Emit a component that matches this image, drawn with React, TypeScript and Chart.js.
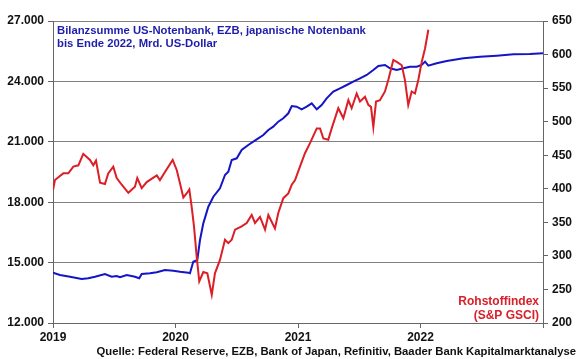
import React, { useEffect, useRef } from "react";
import { Chart, registerables } from "chart.js";

Chart.register(...registerables);

// Balance sheet total (left axis, Mrd. US-Dollar)
const blueDates = [
  2019.0, 2019.057, 2019.139, 2019.234, 2019.288, 2019.343, 2019.424, 2019.479, 2019.52, 2019.547,
  2019.602, 2019.669, 2019.704, 2019.724, 2019.792, 2019.847, 2019.914, 2019.982, 2020.037, 2020.104,
  2020.118, 2020.145, 2020.178, 2020.2, 2020.227, 2020.268, 2020.309, 2020.363, 2020.404, 2020.431,
  2020.459, 2020.5, 2020.54, 2020.594, 2020.663, 2020.717, 2020.758, 2020.798, 2020.839, 2020.88,
  2020.921, 2020.949, 2020.989, 2021.03, 2021.071, 2021.112, 2021.153, 2021.193, 2021.234, 2021.288,
  2021.343, 2021.398, 2021.451, 2021.506, 2021.561, 2021.615, 2021.656, 2021.71, 2021.751, 2021.806,
  2021.86, 2021.914, 2021.969, 2022.01, 2022.037, 2022.064, 2022.132, 2022.214, 2022.351, 2022.486,
  2022.622, 2022.759, 2022.894, 2023.0,
];
const blueValues = [
  14500, 14384, 14300, 14185, 14220, 14300, 14434, 14300, 14334, 14270,
  14384, 14300, 14220, 14434, 14470, 14520, 14632, 14600, 14550, 14500,
  14470, 15044, 15130, 16122, 16950, 17776, 18273, 18690, 19350, 19515,
  20096, 20180, 20593, 20841, 21124, 21338, 21586, 21750, 22000, 22167,
  22416, 22778, 22744, 22615, 22744, 22912, 22615, 22828, 23160, 23490,
  23657, 23820, 23985, 24154, 24318, 24566, 24765, 24815, 24650, 24566,
  24650, 24730, 24730, 24815, 24980, 24780, 24900, 25013, 25147, 25230,
  25280, 25346, 25360, 25396,
];

// Commodity index S&P GSCI (right axis)
const redDates = [
  2019.0, 2019.016, 2019.049, 2019.084, 2019.125, 2019.166, 2019.207, 2019.247, 2019.302, 2019.329,
  2019.351, 2019.384, 2019.424, 2019.451, 2019.492, 2019.52, 2019.561, 2019.615, 2019.669, 2019.688,
  2019.724, 2019.765, 2019.847, 2019.873, 2019.914, 2019.977, 2020.01, 2020.037, 2020.064, 2020.091,
  2020.113, 2020.132, 2020.151, 2020.173, 2020.194, 2020.227, 2020.26, 2020.296, 2020.322, 2020.363,
  2020.404, 2020.431, 2020.459, 2020.486, 2020.54, 2020.581, 2020.622, 2020.649, 2020.69, 2020.731,
  2020.758, 2020.812, 2020.839, 2020.88, 2020.921, 2020.949, 2020.976, 2021.016, 2021.057, 2021.098,
  2021.153, 2021.18, 2021.207, 2021.247, 2021.275, 2021.329, 2021.37, 2021.411, 2021.438, 2021.479,
  2021.506, 2021.547, 2021.574, 2021.596, 2021.615, 2021.637, 2021.669, 2021.71, 2021.737, 2021.778,
  2021.806, 2021.847, 2021.873, 2021.9, 2021.928, 2021.955, 2021.982, 2022.01, 2022.037, 2022.064,
];
const redValues = [
  398, 413, 418, 423, 423, 433, 435, 452, 443, 435,
  442, 409, 407, 423, 433, 416, 406, 394, 403, 416,
  401, 410, 420, 413, 425, 443, 428, 408, 387, 393,
  399, 373, 344, 299, 262, 276, 274, 242, 274, 294,
  324, 319, 324, 339, 344, 349, 361, 349, 358, 339,
  361, 341, 364, 386, 393, 406, 413, 433, 453, 468,
  490, 490, 475, 473, 490, 520, 505, 532, 520, 542,
  530, 537, 525, 522, 492, 530, 532, 545, 562, 592,
  589, 584, 562, 525, 545, 542, 562, 589, 609, 637,
];

const xTickLabels = ["2019", "2020", "2021", "2022"];
const titleLines = [
  "Bilanzsumme US-Notenbank, EZB, japanische Notenbank",
  "bis Ende 2022, Mrd. US-Dollar",
];
const redLabelLines = ["Rohstoffindex", "(S&P GSCI)"];
const sourceText =
  "Quelle: Federal Reserve, EZB, Bank of Japan, Refinitiv, Baader Bank Kapitalmarktanalyse";

const FONT = "'Liberation Sans', Arial, sans-serif";

const fmtThousands = (v: number) => {
  const s = Math.round(v).toString();
  return s.replace(/\B(?=(\d{3})+(?!\d))/g, ".");
};

const textPlugin = {
  id: "texts",
  afterDraw(chart: any) {
    const ctx = chart.ctx;
    const area = chart.chartArea;
    ctx.save();
    ctx.textBaseline = "middle";
    ctx.font = `bold 11.3px ${FONT}`;
    ctx.fillStyle = "#1e1eaa";
    ctx.textAlign = "left";
    ctx.fillText(titleLines[0], area.left + 4, 31);
    ctx.fillText(titleLines[1], area.left + 4, 44);
    ctx.font = `bold 12px ${FONT}`;
    ctx.fillStyle = "#d8202a";
    ctx.textAlign = "right";
    ctx.fillText(redLabelLines[0], area.right - 4, 302);
    ctx.fillText(redLabelLines[1], area.right - 4, 316);
    ctx.font = `bold 11.3px ${FONT}`;
    ctx.fillStyle = "#111";
    ctx.textAlign = "right";
    ctx.fillText(sourceText, 576, 352);
    ctx.restore();
  },
};

export default function App() {
  const ref = useRef<HTMLCanvasElement | null>(null);
  useEffect(() => {
    if (!ref.current) return;
    const chart = new Chart(ref.current, {
      type: "line",
      data: {
        datasets: [
          {
            label: "Rohstoffindex",
            data: redDates.map((d, i) => ({ x: d, y: redValues[i] })),
            borderColor: "#dc1e26",
            borderWidth: 2,
            pointRadius: 0,
            yAxisID: "y1",
            tension: 0,
          },
          {
            label: "Bilanzsumme",
            data: blueDates.map((d, i) => ({ x: d, y: blueValues[i] })),
            borderColor: "#1414c8",
            borderWidth: 2,
            pointRadius: 0,
            yAxisID: "y",
            tension: 0,
          },
        ],
      },
      plugins: [textPlugin],
      options: {
        animation: false,
        responsive: false,
        maintainAspectRatio: false,
        layout: { padding: { top: 21, left: 0, right: 0, bottom: 0 } },
        plugins: { legend: { display: false }, tooltip: { enabled: false } },
        scales: {
          x: {
            type: "linear",
            min: 2019,
            max: 2023,
            afterFit: (s: any) => {
              s.height = 36;
            },
            afterBuildTicks: (s: any) => {
              s.ticks = [2019, 2020, 2021, 2022, 2023].map((v) => ({ value: v }));
            },
            ticks: {
              autoSkip: false,
              maxRotation: 0,
              padding: 2,
              color: "#111",
              font: { family: FONT, size: 12, weight: "bold" },
              callback: (v: any) => {
                const i = Math.round(Number(v)) - 2019;
                return xTickLabels[i] ?? "";
              },
            },
            grid: { drawOnChartArea: false, tickLength: 5, color: "#666" },
            border: { color: "#666", width: 1 },
          },
          y: {
            position: "left",
            min: 12000,
            max: 27000,
            afterFit: (s: any) => {
              s.width = 53;
            },
            ticks: {
              stepSize: 3000,
              padding: 4,
              color: "#111",
              font: { family: FONT, size: 12, weight: "bold" },
              callback: (v: any) => fmtThousands(Number(v)),
            },
            grid: { color: "#808080", tickLength: 5, tickColor: "#666" },
            border: { color: "#666", width: 1 },
          },
          y1: {
            position: "right",
            min: 200,
            max: 650,
            afterFit: (s: any) => {
              s.width = 37;
            },
            ticks: {
              stepSize: 50,
              padding: 4,
              color: "#111",
              font: { family: FONT, size: 12, weight: "bold" },
            },
            grid: { drawOnChartArea: false, tickLength: 5, color: "#666" },
            border: { color: "#666", width: 1 },
          },
        },
      },
    } as any);
    return () => chart.destroy();
  }, []);
  return (
    <div style={{ position: "absolute", left: 0, top: 0, width: 580, height: 359, background: "#fff" }}>
      <canvas ref={ref} width={580} height={359} style={{ width: 580, height: 359, display: "block" }} />
    </div>
  );
}
